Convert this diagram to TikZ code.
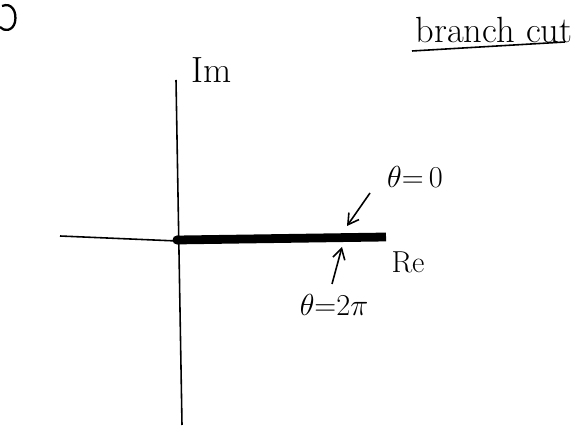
\documentclass[tikz,border=0pt]{standalone}
\usepackage{amsmath}
\usepackage{tikz}
\usetikzlibrary{arrows.meta, positioning, calc}

\begin{document}
\begin{tikzpicture}[
          x=0.02cm, y=-0.02cm,
          axis/.style={draw, line width=0.9pt},
          cut/.style={draw, line width=5pt},
          label/.style={font=\LARGE, inner sep=1pt},
          pointer/.style={draw, line width=0.9pt, -{Straight Barb[length=6pt, width=7pt]}}
        ]
          \useasboundingbox (0,0) rectangle (584,431);
          % corner mark
          \draw[line width=1.3pt] (2,6) .. controls (12,2) and (17,12) .. (15,22)
            .. controls (13,31) and (4,32) .. (0,27);
          % axes
          \coordinate (o) at (177,240);
          \coordinate (left) at (60,236);
          \coordinate (right) at (177,241);
          \coordinate (top) at (176,80);
          \coordinate (bottom) at (182,425);
          \draw[axis] (left) -- (right);
          \draw[axis] (top) -- (bottom);
          \coordinate (cutend) at (386,237);
          \draw[cut] (o) -- (cutend);
          \fill (o) circle (4.5);
          % labels
          \node[label, font=\huge] (im) at (212,70) {Im};
          \node[label] (re) at (408,262) {Re};
          \node[label] (zero) at (415,177) {$\theta{=}\,0$};
          \node[label] (twopi) at (334,305) {$\theta{=}2\pi$};
          \node[label, font=\huge] (title) at (494,30) {branch cut};
          \coordinate (ul) at (412,51);
          \coordinate (ur) at (565,42);
          \draw[line width=0.9pt] (ul) -- (ur);
          % arrows
          \coordinate (upper) at (347,226);
          \coordinate (lower) at (342,247);
          \draw[pointer] (370,193) -- (upper);
          \draw[pointer] (332,284) -- (lower);
        \end{tikzpicture}
\end{document}
